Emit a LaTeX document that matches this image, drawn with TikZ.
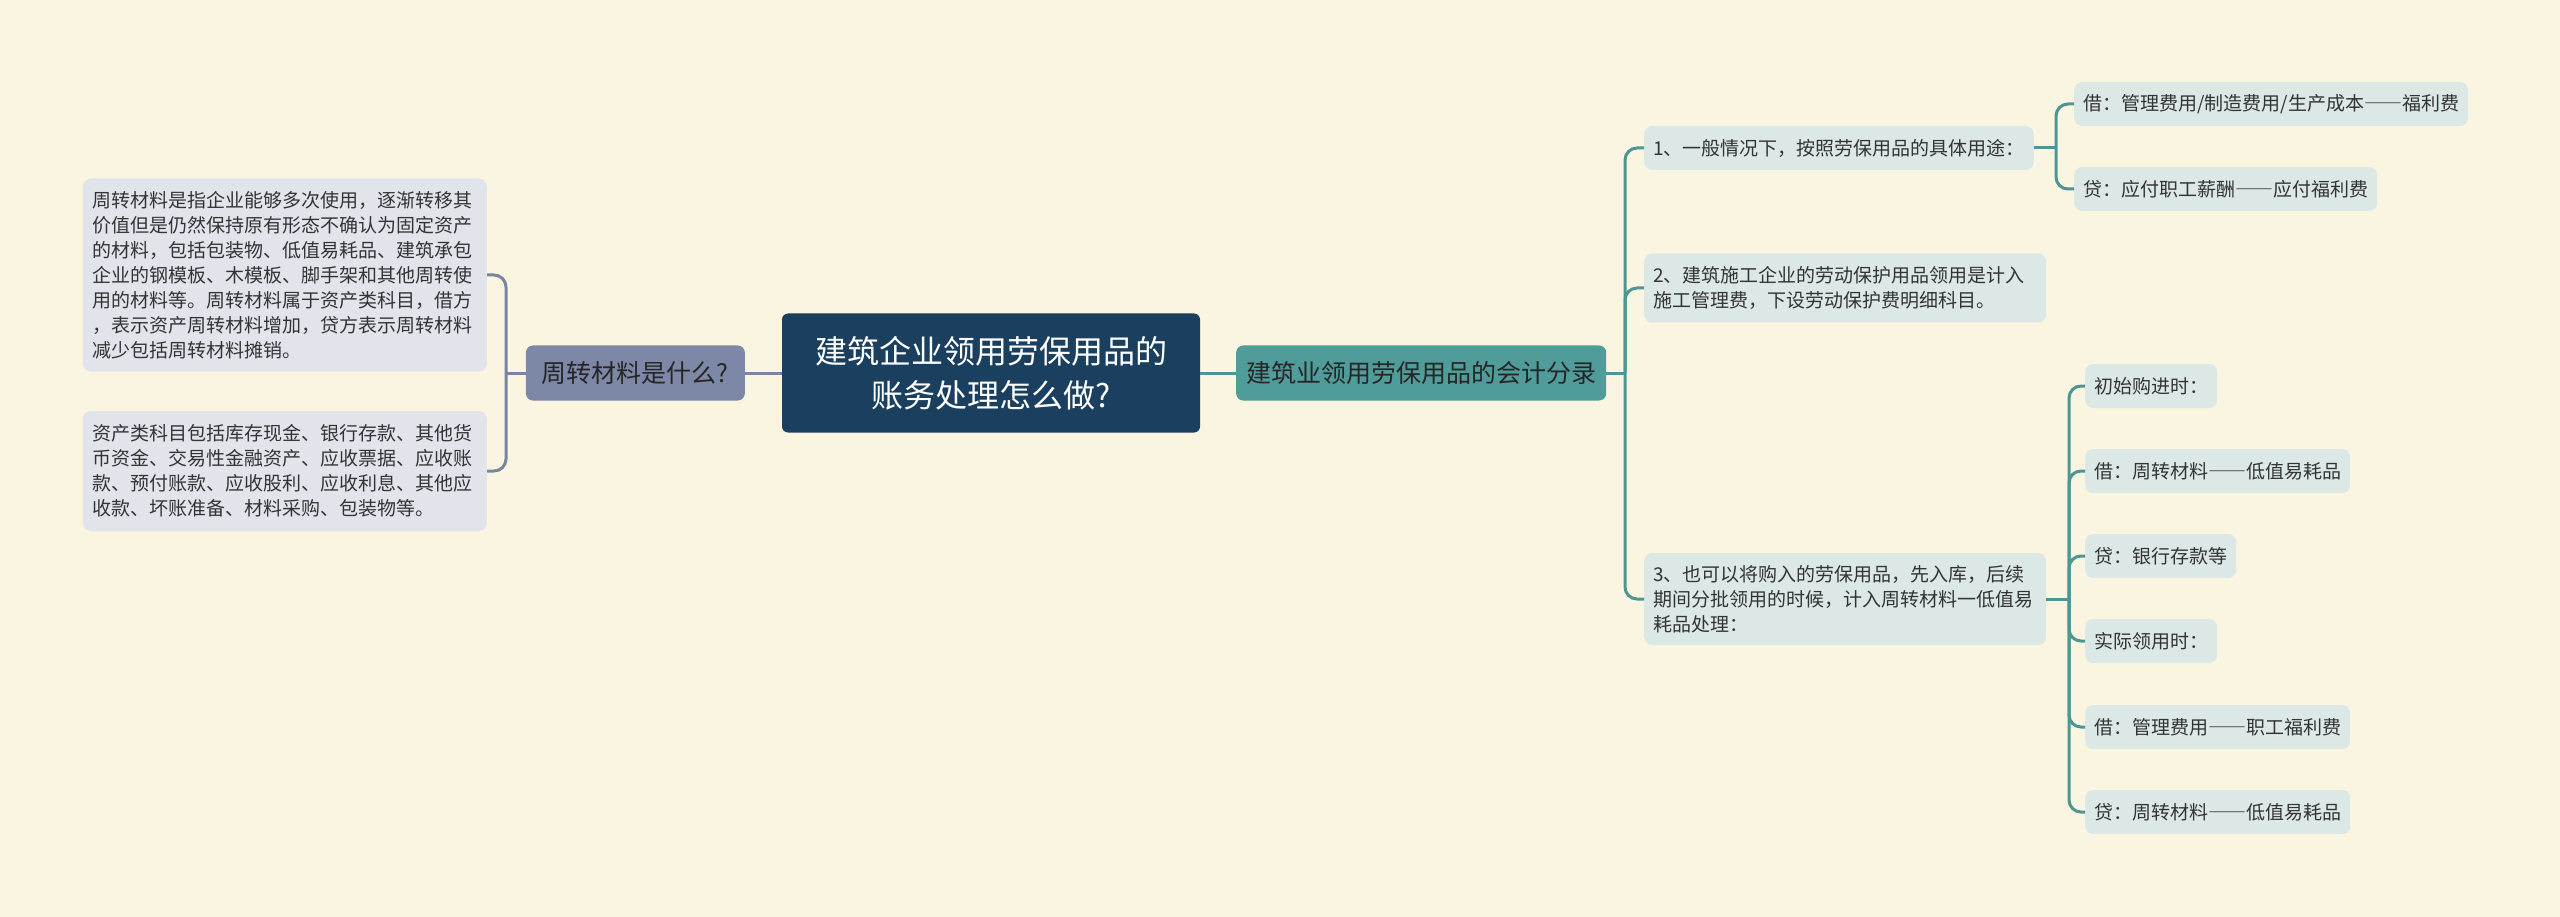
\documentclass[tikz,border=0pt]{standalone}
\usepackage{fontspec}
\setmainfont{Noto Sans CJK SC}
\newfontfamily\fwfont{Noto Sans CJK SC}[RawFeature=+fwid]
\newcommand{\dd}{{\fwfont ——}}
\definecolor{bg}{HTML}{FAF5E0}
\definecolor{rootc}{HTML}{1B3F5E}
\definecolor{tealc}{HTML}{4F9C9A}
\definecolor{greyc}{HTML}{7D87A6}
\definecolor{leafr}{HTML}{DCE8E6}
\definecolor{leafl}{HTML}{E1E4EB}
\definecolor{txt}{HTML}{333333}
\definecolor{lineT}{HTML}{4E9694}
\definecolor{lineG}{HTML}{7A84A3}
\begin{document}
\begin{tikzpicture}[x=1pt,y=-1pt,
  rootbox/.style={fill=rootc,rounded corners=6pt,text=white,font=\fontsize{32}{44}\selectfont,align=center,minimum width=418pt,minimum height=119pt,inner sep=0pt},
  mainT/.style={fill=tealc,rounded corners=7pt,text=black!85,font=\fontsize{25}{30}\selectfont,inner xsep=10pt,inner ysep=0pt,minimum height=55pt,anchor=west},
  mainG/.style={fill=greyc,rounded corners=7pt,text=black!85,font=\fontsize{25}{30}\selectfont,inner xsep=16pt,inner ysep=0pt,minimum height=55pt,anchor=east},
  leafR/.style={fill=leafr,rounded corners=8pt,text=txt,font=\fontsize{19}{25}\selectfont,inner xsep=9pt,inner ysep=0pt,minimum height=44pt,anchor=west},
  leafRm/.style={leafR,align=left,text width=384pt},
  leafL/.style={fill=leafl,rounded corners=8pt,text=txt,font=\fontsize{19}{25}\selectfont,inner xsep=10pt,inner ysep=0pt,anchor=east,align=left,text width=384pt},
  conT/.style={draw=lineT,line width=3pt,rounded corners=12pt},
  conG/.style={draw=lineG,line width=3pt,rounded corners=12pt}]
\fill[bg] (0,0) rectangle (2560,917);
\useasboundingbox (0,0) rectangle (2560,917);

\node[rootbox] (root) at (991,373) {建筑企业领用劳保用品的\\账务处理怎么做?};
\node[mainG] (lmain) at (745,373) {周转材料是什么?};
\node[mainT] (rmain) at (1236,373) {建筑业领用劳保用品的会计分录};

% left leaves
\node[leafL,minimum height=193pt] (l1) at (487,275) {周转材料是指企业能够多次使用，逐渐转移其\\价值但是仍然保持原有形态不确认为固定资产\\的材料，包括包装物、低值易耗品、建筑承包\\企业的钢模板、木模板、脚手架和其他周转使\\用的材料等。周转材料属于资产类科目，借方\\，表示资产周转材料增加，贷方表示周转材料\\减少包括周转材料摊销。};
\node[leafL,minimum height=120pt] (l2) at (487,471) {资产类科目包括库存现金、银行存款、其他货\\币资金、交易性金融资产、应收票据、应收账\\款、预付账款、应收股利、应收利息、其他应\\收款、坏账准备、材料采购、包装物等。};

% right items
\node[leafR] (i1) at (1644,148) {1、一般情况下，按照劳保用品的具体用途：};
\node[leafRm,minimum height=69pt] (i2) at (1644,288) {2、建筑施工企业的劳动保护用品领用是计入\\施工管理费，下设劳动保护费明细科目。};
\node[leafRm,minimum height=92pt] (i3) at (1644,599) {3、也可以将购入的劳保用品，先入库，后续\\期间分批领用的时候，计入周转材料一低值易\\耗品处理：};

\node[leafR] (a1) at (2074,104) {借：管理费用/制造费用/生产成本\dd 福利费};
\node[leafR] (a2) at (2074,189) {贷：应付职工薪酬\dd 应付福利费};

\node[leafR] (b1) at (2085,386) {初始购进时：};
\node[leafR] (b2) at (2085,471) {借：周转材料\dd 低值易耗品};
\node[leafR] (b3) at (2085,556) {贷：银行存款等};
\node[leafR] (b4) at (2085,641) {实际领用时：};
\node[leafR] (b5) at (2085,727) {借：管理费用\dd 职工福利费};
\node[leafR] (b6) at (2085,812) {贷：周转材料\dd 低值易耗品};

% connectors
\draw[conG] (root.west) -- (lmain.east);
\draw[conT] (root.east) -- (rmain.west);

\coordinate (ls) at (506,373);
\draw[conG] (lmain.west) -- (ls);
\draw[conG] (ls) |- (l1.east);
\draw[conG] (ls) |- (l2.east);

\coordinate (rs) at (1625,373);
\draw[conT] (rmain.east) -- (rs);
\draw[conT] (rs) |- (i1.west);
\draw[conT] (rs) |- (i2.west);
\draw[conT] (rs) |- (i3.west);

\coordinate (s1) at (2056,148);
\draw[conT] (i1.east) -- (s1);
\draw[conT] (s1) |- (a1.west);
\draw[conT] (s1) |- (a2.west);

\coordinate (s3) at (2069,599);
\draw[conT] (i3.east) -- (s3);
\foreach \n in {b1,b2,b3,b4,b5,b6}{\draw[conT] (s3) |- (\n.west);}
\end{tikzpicture}
\end{document}
